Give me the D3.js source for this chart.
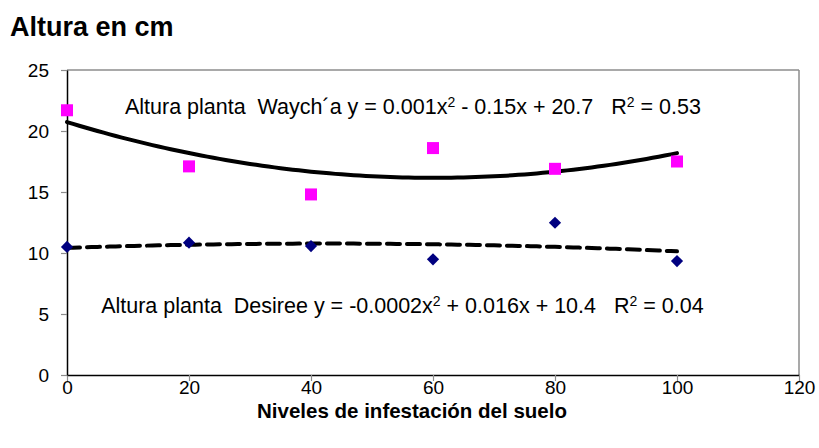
<!DOCTYPE html>
<html>
<head>
<meta charset="utf-8">
<script src="https://cdn.jsdelivr.net/npm/d3@7/dist/d3.min.js"></script>
<style>
  body { margin: 0; background: #fff; }
  svg { display: block; font-family: Arial, "Liberation Sans", sans-serif; }
</style>
</head>
<body>
<div class="chart"></div>
<script>
// data
var niveles = [0, 20, 40, 60, 80, 100];
var alturaWaycha = [21.7, 17.1, 14.8, 18.6, 16.9, 17.5];
var alturaDesiree = [10.5, 10.85, 10.57, 9.48, 12.48, 9.34];
var xTicks = [0, 20, 40, 60, 80, 100, 120];
var yTicks = [0, 5, 10, 15, 20, 25];

var width = 819, height = 448;
var margin = {top: 70, right: 20, bottom: 73, left: 67};

var x = d3.scaleLinear().domain([0, 120]).range([margin.left, width - margin.right]);
var y = d3.scaleLinear().domain([0, 25]).range([height - margin.bottom, margin.top]);

var svg = d3.select(".chart").append("svg")
    .attr("width", width)
    .attr("height", height);

svg.append("rect").attr("width", width).attr("height", height).attr("fill", "#fff");

// least squares quadratic, like the excel trendline
function polyfit2(xs, ys) {
    var n = xs.length, s = [0, 0, 0, 0, 0], t = [0, 0, 0];
    for (var i = 0; i < n; i++) {
        for (var k = 0; k < 5; k++) s[k] += Math.pow(xs[i], k);
        for (var k = 0; k < 3; k++) t[k] += ys[i] * Math.pow(xs[i], k);
    }
    var m = [[s[0], s[1], s[2]], [s[1], s[2], s[3]], [s[2], s[3], s[4]]];
    function det(a) {
        return a[0][0] * (a[1][1] * a[2][2] - a[1][2] * a[2][1])
             - a[0][1] * (a[1][0] * a[2][2] - a[1][2] * a[2][0])
             + a[0][2] * (a[1][0] * a[2][1] - a[1][1] * a[2][0]);
    }
    var d = det(m), c = [];
    for (var j = 0; j < 3; j++) {
        var mj = m.map(function(row, r) { return row.map(function(v, col) { return col === j ? t[r] : v; }); });
        c.push(det(mj) / d);
    }
    return function(v) { return c[0] + c[1] * v + c[2] * v * v; };
}

// plot area border (grey top / right)
svg.append("line")
    .attr("x1", x(0)).attr("x2", x(120))
    .attr("y1", y(25)).attr("y2", y(25))
    .attr("stroke", "#8c8c8c").attr("stroke-width", 1.5);
svg.append("line")
    .attr("x1", x(120)).attr("x2", x(120))
    .attr("y1", y(25)).attr("y2", y(0))
    .attr("stroke", "#8c8c8c").attr("stroke-width", 1.5);

// axes
var xAxis = svg.append("g")
    .attr("transform", "translate(0," + y(0) + ")")
    .call(d3.axisBottom(x).tickValues(xTicks).tickSize(6).tickSizeOuter(0).tickPadding(0));
var yAxis = svg.append("g")
    .attr("transform", "translate(" + x(0) + ",0)")
    .call(d3.axisLeft(y).tickValues(yTicks).tickSize(6).tickSizeOuter(0).tickPadding(12));

[xAxis, yAxis].forEach(function(g) {
    g.selectAll("text").attr("font-size", 19).attr("font-family", "Arial, 'Liberation Sans', sans-serif").attr("fill", "#000");
    g.selectAll("line").attr("stroke", "#8c8c8c").attr("stroke-width", 1.2);
    g.select(".domain").attr("stroke", "#000").attr("stroke-width", 1.5);
});

// trendlines
var xs = d3.range(0, 100.5, 1);
var fitW = polyfit2(niveles, alturaWaycha);
var fitD = polyfit2(niveles, alturaDesiree);
var line = d3.line().x(function(d) { return x(d[0]); }).y(function(d) { return y(d[1]); });

svg.append("path")
    .datum(xs.map(function(v) { return [v, fitW(v)]; }))
    .attr("d", line)
    .attr("fill", "none").attr("stroke", "#000").attr("stroke-width", 4)
    .attr("stroke-linecap", "round");

svg.append("path")
    .datum(xs.map(function(v) { return [v, fitD(v)]; }))
    .attr("d", line)
    .attr("fill", "none").attr("stroke", "#000").attr("stroke-width", 4)
    .attr("stroke-dasharray", "13,7")
    .attr("stroke-linecap", "round");

// points
svg.selectAll(".waycha")
    .data(niveles)
    .enter().append("rect")
    .attr("class", "waycha")
    .attr("x", function(d) { return x(d) - 6; })
    .attr("y", function(d, i) { return y(alturaWaycha[i]) - 6; })
    .attr("width", 12).attr("height", 12)
    .attr("fill", "#ff00ff");

svg.selectAll(".desiree")
    .data(niveles)
    .enter().append("path")
    .attr("class", "desiree")
    .attr("d", d3.symbol().type(d3.symbolDiamond2).size(95))
    .attr("transform", function(d, i) { return "translate(" + x(d) + "," + y(alturaDesiree[i]) + ")"; })
    .attr("fill", "#000080");

// equation labels, superscripts as {s: "2"}
function equation(px, py, parts) {
    var t = svg.append("text")
        .attr("x", x(px)).attr("y", y(py))
        .attr("font-size", 21.5).attr("fill", "#000")
        .attr("xml:space", "preserve");
    var up = false;
    parts.forEach(function(p) {
        if (typeof p === "object") {
            t.append("tspan").attr("dy", -7).attr("font-size", 14).text(p.s);
            up = true;
        } else {
            var ts = t.append("tspan").text(p);
            if (up) ts.attr("dy", 7);
            up = false;
        }
    });
}
equation(9.5, 21.4, ["Altura planta  Waych\u00b4a y = 0.001x", {s: "2"}, " - 0.15x + 20.7   R", {s: "2"}, " = 0.53"]);
equation(5.6, 5.05, ["Altura planta  Desiree y = -0.0002x", {s: "2"}, " + 0.016x + 10.4   R", {s: "2"}, " = 0.04"]);

// titles
svg.append("text")
    .attr("x", 10).attr("y", 36)
    .attr("font-size", 27).attr("font-weight", "bold")
    .text("Altura en cm");

svg.append("text")
    .attr("x", 412).attr("y", 418)
    .attr("text-anchor", "middle")
    .attr("font-size", 20.5).attr("font-weight", "bold")
    .text("Niveles de infestación del suelo");
</script>
</body>
</html>
